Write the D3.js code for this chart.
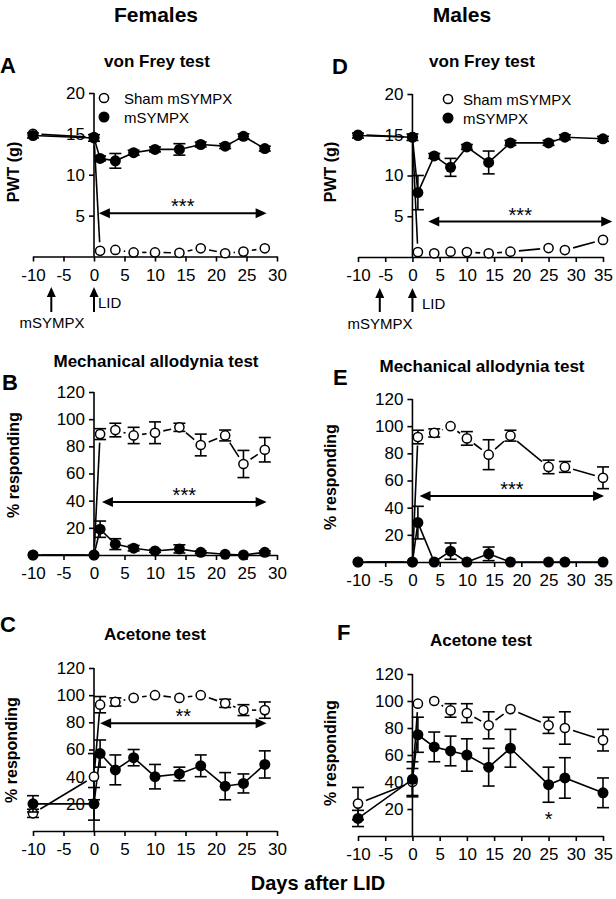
<!DOCTYPE html>
<html><head><meta charset="utf-8">
<script src="https://cdn.jsdelivr.net/npm/d3@7"></script>
<style>body{margin:0;background:#fff}</style>
</head><body>
<script>
// ---------- DATA ----------
const femaleDays = [-10, 0, 1, 3.5, 6.5, 10, 14, 17.5, 21.5, 24.5, 28];
const maleDays   = [-10, 0, 1, 4, 7, 10, 14, 18, 25, 28, 35];
const xTicksF = [-10, -5, 0, 5, 10, 15, 20, 25, 30];
const xTicksM = [-10, -5, 0, 5, 10, 15, 20, 25, 30, 35];
const pwtTicks = [5, 10, 15, 20];
const pctTicks = [20, 40, 60, 80, 100, 120];
const seriesNames = ["Sham mSYMPX", "mSYMPX"];

// A: von Frey, females
const vfShamF      = [15.0, 14.6, 0.7, 0.8, 0.5, 0.5, 0.45, 1.0, 0.4, 0.6, 1.0];
const vfShamFErr   = [0, 0, 0, 0, 0, 0, 0, 0, 0, 0, 0];
const vfSympxF     = [14.8, 14.5, 12.0, 11.7, 12.7, 13.1, 13.1, 13.7, 13.5, 14.7, 13.2];
const vfSympxFErr  = [0.3, 0.4, 0.3, 0.9, 0.3, 0.3, 0.7, 0.3, 0.3, 0.3, 0.3];
// D: von Frey, males
const vfShamM      = [15.0, 14.7, 0.6, 0.45, 0.65, 0.6, 0.45, 0.65, 1.1, 0.85, 2.1];
const vfShamMErr   = [0, 0, 0, 0, 0, 0, 0, 0, 0, 0, 0];
const vfSympxM     = [14.9, 14.7, 7.9, 12.4, 11.0, 13.5, 11.6, 14.0, 14.0, 14.7, 14.5];
const vfSympxMErr  = [0.3, 0.4, 2.1, 0.3, 1.1, 0.3, 1.4, 0.3, 0.3, 0.3, 0.3];
// B: mechanical allodynia, females
const maShamF      = [0, 0, 89, 92, 88, 90, 94, 81, 88, 67, 77.5];
const maShamFErr   = [0, 0, 4, 5, 6, 8, 3, 8, 4, 10, 9];
const maSympxF     = [0, 0, 19, 8, 5, 3, 4.5, 2, 0.5, 0, 2];
const maSympxFErr  = [0, 0, 6, 4, 2, 1, 3, 1, 0, 0, 1];
// E: mechanical allodynia, males
const maShamM      = [0, 0, 92, 95, 100, 91, 79, 93, 70, 70, 62];
const maShamMErr   = [0, 0, 5, 3, 0, 5, 11, 4, 5, 4, 8];
const maSympxM     = [0, 0, 29, 0, 8, 0, 6, 0, 0, 0, 0];
const maSympxMErr  = [0, 0, 12, 0, 6, 0, 5, 0, 0, 0, 0];
// C: acetone, females
const acShamF      = [13, 40, 93, 95, 98, 100, 98, 100, 94, 89, 89];
const acShamFErr   = [3, 17, 6, 3, 0, 0, 0, 0, 3, 4, 6];
const acSympxF     = [20, 20, 57, 45, 54, 40, 42, 48, 33, 35, 49];
const acSympxFErr  = [6, 12, 10, 11, 6, 9, 5, 8, 10, 7, 10];
// F: acetone, males
const acShamM      = [24, 40, 98, 100, 93, 91, 82, 94, 82, 80, 71];
const acShamMErr   = [12, 10, 0, 0, 5, 7, 10, 0, 6, 12, 8];
const acSympxM     = [13, 42, 75, 66, 63, 60, 51, 65, 38, 43, 32];
const acSympxMErr  = [6, 13, 13, 11, 11, 12, 14, 14, 13, 15, 11];

// ---------- LAYOUT ----------
const FONT = "'Liberation Sans', Arial, Helvetica, sans-serif";
const W = 616, H = 899;
const svg = d3.select("body").append("svg").attr("width", W).attr("height", H)
  .style("background", "#fff");

const panels = [
  {letter:"A", title:"von Frey test", days:femaleDays, sham:vfShamF, shamErr:vfShamFErr, sympx:vfSympxF, sympxErr:vfSympxFErr,
   ymax:20, yTicks:pwtTicks, xmax:30, xTicks:xTicksF, ylabel:"PWT (g)",
   sig:{from:0.8, to:28.3, y:5.3, label:"***"}, legend:true, events:[-7, 0],
   L:{x0:33, x1:277, yTop:93, yBot:256.5, lx:0, ly:73, tx:157, ty:67, yl:[19,172], legX:104, legY:98, legTx:124, evTip:287, evBot:312, lidX:98, lidY:308, msX:52, msY:328}},
  {letter:"D", title:"von Frey test", days:maleDays, sham:vfShamM, shamErr:vfShamMErr, sympx:vfSympxM, sympxErr:vfSympxMErr,
   ymax:20, yTicks:pwtTicks, xmax:35, xTicks:xTicksM, ylabel:"PWT (g)",
   sig:{from:2.9, to:36.7, y:4.35, label:"***"}, legend:true, events:[-6, 0],
   L:{x0:358, x1:603, yTop:94, yBot:257, lx:332, ly:74, tx:482, ty:67, yl:[336,172], legX:448, legY:99, legTx:463, evTip:288, evBot:312, lidX:422, lidY:309, msX:380, msY:329}},
  {letter:"B", title:"Mechanical allodynia test", days:femaleDays, sham:maShamF, shamErr:maShamFErr, sympx:maSympxF, sympxErr:maSympxFErr,
   ymax:120, yTicks:pctTicks, xmax:30, xTicks:xTicksF, ylabel:"% responding",
   sig:{from:1.3, to:28.3, y:39, label:"***"},
   L:{x0:33, x1:277, yTop:392, yBot:555, lx:2, ly:390, tx:156, ty:367, yl:[19,465]}},
  {letter:"E", title:"Mechanical allodynia test", days:maleDays, sham:maShamM, shamErr:maShamMErr, sympx:maSympxM, sympxErr:maSympxMErr,
   ymax:120, yTicks:pctTicks, xmax:35, xTicks:xTicksM, ylabel:"% responding",
   sig:{from:1.3, to:35.2, y:48.5, label:"***"},
   L:{x0:358, x1:603, yTop:399, yBot:562, lx:333, ly:385, tx:482, ty:372, yl:[336,477]}},
  {letter:"C", title:"Acetone test", days:femaleDays, sham:acShamF, shamErr:acShamFErr, sympx:acSympxF, sympxErr:acSympxFErr,
   ymax:120, yTicks:pctTicks, xmax:30, xTicks:xTicksF, ylabel:"% responding",
   sig:{from:1.0, to:28.3, y:79.3, label:"**"},
   L:{x0:33, x1:277, yTop:668, yBot:831, lx:0, ly:632, tx:155, ty:640, yl:[17,750]}},
  {letter:"F", title:"Acetone test", days:maleDays, sham:acShamM, shamErr:acShamMErr, sympx:acSympxM, sympxErr:acSympxMErr,
   ymax:120, yTicks:pctTicks, xmax:35, xTicks:xTicksM, ylabel:"% responding",
   star:{day:25, value:15.5, label:"*"},
   L:{x0:358, x1:603, yTop:674, yBot:836, lx:337, ly:640, tx:481, ty:646, yl:[336,753]}}
];

const LW = 1.6, R_OPEN = 4.6, R_FILL = 5.5, CAP = 6, GAP = 8.5;

function drawPanel(p) {
  const L = p.L;
  const g = svg.append("g");
  const x = d3.scaleLinear().domain([-10, p.xmax]).range([L.x0, L.x1]);
  const y = d3.scaleLinear().domain([0, p.ymax]).range([L.yBot, L.yTop]);

  // axes
  const xa = g.append("g").attr("transform", `translate(0,${y(0)})`)
    .call(d3.axisBottom(x).tickValues(p.xTicks).tickSize(5).tickPadding(7).tickSizeOuter(0).tickFormat(d => String(d)));
  const ya = g.append("g").attr("transform", `translate(${x(0)},0)`)
    .call(d3.axisLeft(y).tickValues(p.yTicks).tickSize(5).tickPadding(4).tickSizeOuter(0).tickFormat(d => String(d)));
  [xa, ya].forEach(a => {
    a.attr("font-family", FONT).attr("font-size", 17);
    a.selectAll("path,line").attr("stroke", "#000").attr("stroke-width", LW);
    a.selectAll("text").attr("fill", "#000");
  });
  ya.select(".domain").attr("d", `M0,${y(p.ymax)}V${y(0)}`);

  // letter, title, y label
  svg.append("text").attr("x", L.lx).attr("y", L.ly).text(p.letter)
    .attr("font-family", FONT).attr("font-weight", "bold").attr("font-size", 22);
  svg.append("text").attr("x", L.tx).attr("y", L.ty).text(p.title).attr("text-anchor", "middle")
    .attr("font-family", FONT).attr("font-weight", "bold").attr("font-size", 17);
  svg.append("text").attr("transform", `translate(${L.yl[0]},${L.yl[1]}) rotate(-90)`)
    .attr("text-anchor", "middle").text(p.ylabel)
    .attr("font-family", FONT).attr("font-weight", "bold").attr("font-size", 16);

  const days = p.days;
  // sham (open) line with gaps around symbols
  for (let i = 0; i < days.length - 1; i++) {
    const x1 = x(days[i]), y1 = y(p.sham[i]), x2 = x(days[i+1]), y2 = y(p.sham[i+1]);
    const dx = x2 - x1, dy = y2 - y1, len = Math.hypot(dx, dy);
    if (len <= 2 * GAP) continue;
    const ux = dx / len, uy = dy / len;
    g.append("line").attr("x1", x1 + ux*GAP).attr("y1", y1 + uy*GAP)
      .attr("x2", x2 - ux*GAP).attr("y2", y2 - uy*GAP)
      .attr("stroke", "#000").attr("stroke-width", LW);
  }
  // sympx (filled) line
  g.append("path").datum(days.map((d, i) => [d, p.sympx[i]]))
    .attr("d", d3.line().x(d => x(d[0])).y(d => y(d[1])))
    .attr("fill", "none").attr("stroke", "#000").attr("stroke-width", LW);

  function errBars(vals, errs) {
    days.forEach((d, i) => {
      const e = errs[i]; if (!e) return;
      const cx = x(d), lo = y(vals[i] - e), hi = y(vals[i] + e);
      g.append("line").attr("x1", cx).attr("x2", cx).attr("y1", lo).attr("y2", hi).attr("stroke", "#000").attr("stroke-width", LW);
      [lo, hi].forEach(yy => g.append("line").attr("x1", cx - CAP).attr("x2", cx + CAP).attr("y1", yy).attr("y2", yy).attr("stroke", "#000").attr("stroke-width", LW));
    });
  }
  errBars(p.sham, p.shamErr);
  g.selectAll(null).data(days).enter().append("circle")
    .attr("cx", d => x(d)).attr("cy", (d, i) => y(p.sham[i])).attr("r", R_OPEN)
    .attr("fill", "#fff").attr("stroke", "#000").attr("stroke-width", 1.5);
  errBars(p.sympx, p.sympxErr);
  g.selectAll(null).data(days).enter().append("circle")
    .attr("cx", d => x(d)).attr("cy", (d, i) => y(p.sympx[i])).attr("r", R_FILL).attr("fill", "#000");

  // significance arrow
  if (p.sig) {
    const ax1 = x(p.sig.from), ax2 = x(p.sig.to), ay = y(p.sig.y), hl = 11, hw = 5;
    g.append("line").attr("x1", ax1 + hl - 1).attr("x2", ax2 - hl + 1).attr("y1", ay).attr("y2", ay)
      .attr("stroke", "#000").attr("stroke-width", 2);
    g.append("path").attr("d", `M${ax1},${ay}L${ax1+hl},${ay-hw}L${ax1+hl},${ay+hw}Z`).attr("fill", "#000");
    g.append("path").attr("d", `M${ax2},${ay}L${ax2-hl},${ay-hw}L${ax2-hl},${ay+hw}Z`).attr("fill", "#000");
    g.append("text").attr("x", (ax1 + ax2) / 2).attr("y", ay).attr("text-anchor", "middle")
      .attr("font-family", FONT).attr("font-size", 20).text(p.sig.label);
  }
  if (p.star) {
    g.append("text").attr("x", x(p.star.day)).attr("y", y(p.star.value) + 11).attr("text-anchor", "middle")
      .attr("font-family", FONT).attr("font-size", 20).text(p.star.label);
  }

  // legend
  if (p.legend) {
    g.append("circle").attr("cx", L.legX).attr("cy", L.legY).attr("r", R_OPEN).attr("fill", "#fff").attr("stroke", "#000").attr("stroke-width", 1.5);
    g.append("circle").attr("cx", L.legX).attr("cy", L.legY + 19).attr("r", R_FILL).attr("fill", "#000");
    g.append("text").attr("x", L.legTx).attr("y", L.legY + 6).text(seriesNames[0]).attr("font-family", FONT).attr("font-size", 15);
    g.append("text").attr("x", L.legTx).attr("y", L.legY + 25).text(seriesNames[1]).attr("font-family", FONT).attr("font-size", 15);
  }
  // event arrows (mSYMPX, LID)
  if (p.events) {
    p.events.forEach(d => {
      const cx = x(d);
      g.append("line").attr("x1", cx).attr("x2", cx).attr("y1", L.evTip + 8).attr("y2", L.evBot).attr("stroke", "#000").attr("stroke-width", 2);
      g.append("path").attr("d", `M${cx},${L.evTip}L${cx-4.5},${L.evTip+10}L${cx+4.5},${L.evTip+10}Z`).attr("fill", "#000");
    });
    g.append("text").attr("x", L.lidX).attr("y", L.lidY).text("LID").attr("font-family", FONT).attr("font-size", 15);
    g.append("text").attr("x", L.msX).attr("y", L.msY).attr("text-anchor", "middle").text("mSYMPX").attr("font-family", FONT).attr("font-size", 15);
  }
}
panels.forEach(drawPanel);

// headers and shared x label
svg.append("text").attr("x", 156).attr("y", 22).attr("text-anchor", "middle").text("Females")
  .attr("font-family", FONT).attr("font-weight", "bold").attr("font-size", 21);
svg.append("text").attr("x", 462).attr("y", 22).attr("text-anchor", "middle").text("Males")
  .attr("font-family", FONT).attr("font-weight", "bold").attr("font-size", 21);
svg.append("text").attr("x", 318).attr("y", 890).attr("text-anchor", "middle").text("Days after LID")
  .attr("font-family", FONT).attr("font-weight", "bold").attr("font-size", 20);
</script>
</body></html>
